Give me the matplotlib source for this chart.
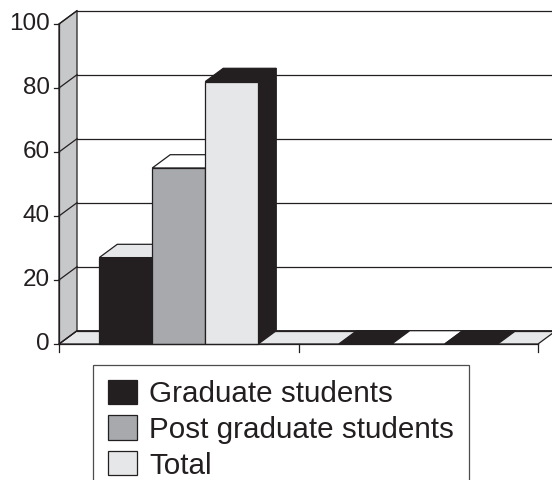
import matplotlib
matplotlib.use('Agg')
import matplotlib.pyplot as plt
from matplotlib.patches import Polygon, Patch

plt.rcParams['font.family'] = ['Liberation Sans', 'DejaVu Sans']

# data
categories = ['', '']
series = ['Graduate students', 'Post graduate students', 'Total']
values = [
    [27, 0],   # Graduate students
    [55, 0],   # Post graduate students
    [82, 0],   # Total
]
y_ticks = [0, 20, 40, 60, 80, 100]

# styling
DARK = '#231f20'
GREY = '#a7a9ac'
LIGHT = '#e6e7e8'
WALL = '#c7c8ca'
front_colors = [DARK, GREY, LIGHT]
top_colors = [LIGHT, 'white', DARK]
side_colors = [DARK, DARK, DARK]
zero_colors = [DARK, 'white', DARK]

# pixel scale of the plot box: one category = 239.5 px, one unit = 3.2 px
PX_CAT = 239.5
PX_VAL = 3.2
DX = 18 / PX_CAT        # depth offset, in category units
DY = 13.3 / PX_VAL      # depth offset, in value units
BAR_W = 53 / PX_CAT
n_cat = len(categories)
ymax = y_ticks[-1]

fig = plt.figure(figsize=(5.52, 4.8), dpi=100)
ax = fig.add_axes([0, 0, 1, 1])
ax.set_xlim(-59 / PX_CAT, (552 - 59) / PX_CAT)
ax.set_ylim((344 - 480) / PX_VAL, 344 / PX_VAL)
ax.axis('off')

lw = 0.9
ec = DARK

# floor
ax.add_patch(Polygon([(0, 0), (n_cat, 0), (n_cat + DX, DY), (DX, DY)],
                     closed=True, fc=LIGHT, ec=ec, lw=lw, zorder=1))
# left wall
ax.add_patch(Polygon([(0, 0), (0, ymax), (DX, ymax + DY), (DX, DY)],
                     closed=True, fc=WALL, ec=ec, lw=lw, zorder=1))
# back wall grid lines and diagonals on the side wall
for t in y_ticks:
    ax.plot([DX, n_cat + DX], [t + DY, t + DY], color=ec, lw=lw, zorder=1.5)
    ax.plot([0, DX], [t, t + DY], color=ec, lw=lw, zorder=1.5)

# bars, left to right so each hides the side of the one before
gap = (1 - len(series) * BAR_W) / 2
for i in range(n_cat):
    for k in range(len(series)):
        v = values[k][i]
        x0 = i + gap + k * BAR_W
        x1 = x0 + BAR_W
        z = 3 + i * 10 + k
        if v == 0:
            ax.add_patch(Polygon([(x0, 0), (x1, 0), (x1 + DX, DY), (x0 + DX, DY)],
                                 closed=True, fc=zero_colors[k], ec=ec, lw=lw, zorder=z))
            continue
        ax.add_patch(Polygon([(x1, 0), (x1, v), (x1 + DX, v + DY), (x1 + DX, DY)],
                             closed=True, fc=side_colors[k], ec=ec, lw=lw, zorder=z))
        ax.add_patch(Polygon([(x0, v), (x1, v), (x1 + DX, v + DY), (x0 + DX, v + DY)],
                             closed=True, fc=top_colors[k], ec=ec, lw=lw, zorder=z))
        ax.add_patch(Polygon([(x0, 0), (x1, 0), (x1, v), (x0, v)],
                             closed=True, fc=front_colors[k], ec=ec, lw=lw, zorder=z))

# front axes
ax.plot([0, 0], [0, ymax], color=ec, lw=lw, zorder=40)
ax.plot([0, n_cat], [0, 0], color=ec, lw=lw, zorder=40)
tick_dx = 5 / PX_CAT
for t in y_ticks:
    ax.plot([-tick_dx, 0], [t, t], color=ec, lw=lw, zorder=40)
    ax.text(-9 / PX_CAT, t, str(t), ha='right', va='center', fontsize=17.5, color=DARK)
for i in range(n_cat + 1):
    ax.plot([i, i], [0, -8 / PX_VAL], color=ec, lw=lw, zorder=40)

handles = [Patch(fc=front_colors[k], ec=ec, lw=lw, label=series[k]) for k in range(len(series))]
leg = fig.legend(handles=handles, loc='upper left', bbox_to_anchor=(93 / 552, 1 - 365 / 480),
                 fontsize=21.3, frameon=True, fancybox=False, borderaxespad=0,
                 handlelength=0.98, handleheight=0.88, handletextpad=0.42,
                 labelspacing=0.25, borderpad=0.5)
leg.get_frame().set_edgecolor(ec)
leg.get_frame().set_linewidth(lw)
for txt in leg.get_texts():
    txt.set_color(DARK)

fig.savefig('out.png', dpi=100)
